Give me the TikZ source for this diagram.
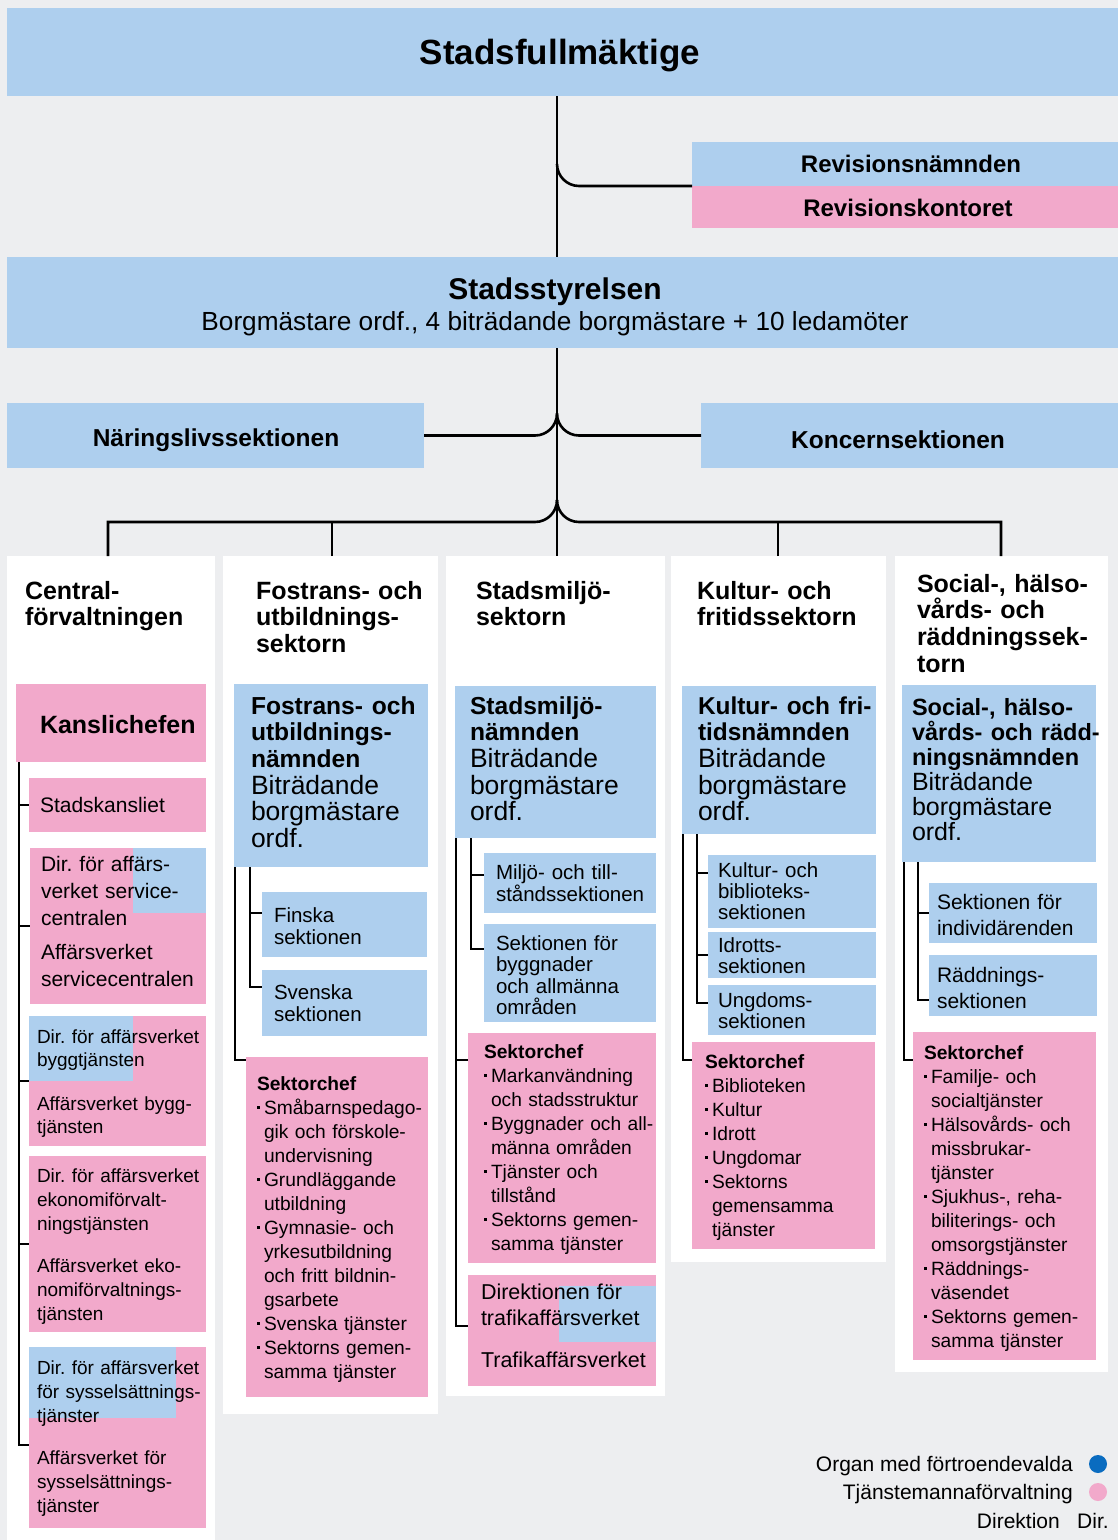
\documentclass[tikz,border=0pt]{standalone}
\usepackage{fontspec}
\setmainfont{Liberation Sans}
\definecolor{bgc}{HTML}{EDEEF0}
\definecolor{blu}{HTML}{AECFEE}
\definecolor{pnk}{HTML}{F2A9CB}
\definecolor{dotblue}{HTML}{0A6CC0}
\newcommand\myfs[2]{\fontsize{#1}{#2}\selectfont}
\newcommand\mybox[6]{\node[boxnode, fill=#6, minimum width={#4-#2}, minimum height={#5-#3}] (#1) at (#2,#3) {};}
\newcommand\mybul{\makebox[7pt][l]{\hspace{0.3pt}\raisebox{5.2pt}{\rule{2.7pt}{2.7pt}}}}
\newcommand\myind{\hspace*{7pt}}
\newcommand\mynb[2]{{\myfs{#1}{26}\bfseries #2}}
\begin{document}
\frenchspacing
\begin{tikzpicture}[x=1pt,y=-1pt]
\tikzset{
  boxnode/.style={anchor=north west,inner sep=0pt,outer sep=0pt,draw=none},
  txt/.style={anchor=base west,inner sep=0pt,outer sep=0pt,text width=260pt,align=left,execute at begin node=\frenchspacing},
  ctr/.style={anchor=base,inner sep=0pt,outer sep=0pt},
  conn/.style={draw=black,line width=2.6pt},
  lst/.style={txt,font=\myfs{19.2}{24}},
  sec/.style={txt,font=\myfs{20.5}{21.5}},
  nmd/.style={txt,font=\myfs{26.5}{26.7}},
  dot/.style={circle,inner sep=0pt,minimum size=18pt,draw=none}
}
\useasboundingbox (0,0) rectangle (1118,1540);
\fill[bgc] (0,0) rectangle (1118,1540);

% ---- top ----
\mybox{sf}{7}{8}{1118}{96}{blu}
\node[ctr,font=\myfs{35}{40}\bfseries] (sft) at (560,64) {Stadsfullmäktige};
\mybox{rn}{692}{142}{1118}{186}{blu}
\mybox{rk}{692}{186}{1118}{228}{pnk}
\node[ctr,font=\myfs{24}{28}\bfseries] (rnt) at (911,172) {Revisionsnämnden};
\node[ctr,font=\myfs{24}{28}\bfseries] (rkt) at (908,216) {Revisionskontoret};
\mybox{ss}{7}{257}{1118}{348}{blu}
\node[ctr,font=\myfs{30}{34}\bfseries] (sst) at (555,299) {Stadsstyrelsen};
\node[ctr,font=\myfs{26.2}{30}] (ssu) at (555,330) {Borgmästare ordf., 4 biträdande borgmästare + 10 ledamöter};
\mybox{nl}{7}{403}{424}{468}{blu}
\node[ctr,font=\myfs{24.5}{28}\bfseries] (nlt) at (216,446) {Näringslivssektionen};
\mybox{kc}{701}{403}{1118}{468}{blu}
\node[ctr,font=\myfs{24.5}{28}\bfseries] (kct) at (898,448) {Koncernsektionen};

% ---- column panels ----
\mybox{c1}{7}{556}{215}{1540}{white}
\mybox{c2}{223}{556}{438}{1414}{white}
\mybox{c3}{446}{556}{665}{1396}{white}
\mybox{c4}{671}{556}{886}{1262}{white}
\mybox{c5}{895}{556}{1108}{1372}{white}

\node[txt,font=\myfs{25}{26.7}\bfseries] (h1) at (25,599) {Central-\\förvaltningen};
\node[txt,font=\myfs{25}{26.7}\bfseries] (h2) at (256,599) {Fostrans- och\\utbildnings-\\sektorn};
\node[txt,font=\myfs{25}{26.7}\bfseries] (h3) at (476,599) {Stadsmiljö-\\sektorn};
\node[txt,font=\myfs{25}{26.7}\bfseries] (h4) at (697,599) {Kultur- och\\fritidssektorn};
\node[txt,font=\myfs{25}{26.7}\bfseries] (h5) at (917,592) {Social-, hälso-\\vårds- och\\räddningssek-\\torn};

% ---- column 1 ----
\mybox{kan1}{16}{684}{206}{762}{pnk}
\node[txt,font=\myfs{25}{28}\bfseries] (kan1t) at (40,733) {Kanslichefen};
\mybox{sk1}{29}{778}{206}{832}{pnk}
\node[txt,font=\myfs{21}{26}] (sk1t) at (40,812) {Stadskansliet};
\mybox{sv1}{30}{848}{206}{1004}{pnk}
\mybox{sv1d}{133}{848}{206}{913}{blu}
\node[txt,font=\myfs{21}{27}] (sv1a) at (41,871) {Dir. för affärs-\\verket service-\\centralen};
\node[txt,font=\myfs{21}{27}] (sv1b) at (41,959) {Affärsverket\\servicecentralen};
\mybox{by1}{29}{1016}{206}{1146}{pnk}
\mybox{by1d}{29}{1016}{133}{1081}{blu}
\node[txt,font=\myfs{19}{23.5}] (by1a) at (37,1043) {Dir. för affärsverket\\byggtjänsten};
\node[txt,font=\myfs{19}{23.5}] (by1b) at (37,1110) {Affärsverket bygg-\\tjänsten};
\mybox{ek1}{29}{1156}{206}{1332}{pnk}
\node[txt,font=\myfs{19}{24}] (ek1a) at (37,1182) {Dir. för affärsverket\\ekonomiförvalt-\\ningstjänsten};
\node[txt,font=\myfs{19}{24}] (ek1b) at (37,1272) {Affärsverket eko-\\nomiförvaltnings-\\tjänsten};
\mybox{sy1}{29}{1347}{206}{1528}{pnk}
\mybox{sy1d}{29}{1347}{176}{1418}{blu}
\node[txt,font=\myfs{19}{24}] (sy1a) at (37,1374) {Dir. för affärsverket\\för sysselsättnings-\\tjänster};
\node[txt,font=\myfs{19}{24}] (sy1b) at (37,1464) {Affärsverket för\\sysselsättnings-\\tjänster};

% ---- column 2 ----
\mybox{nm2}{234}{684}{428}{867}{blu}
\node[nmd] (nm2t) at (251,714) {\mynb{24.6}{Fostrans- och}\\\mynb{24.6}{utbildnings-}\\\mynb{24.6}{nämnden}\\Biträdande\\borgmästare\\ordf.};
\mybox{fi2}{262}{892}{427}{957}{blu}
\node[sec,font=\myfs{20.5}{22}] (fi2t) at (274,922) {Finska\\sektionen};
\mybox{sv2}{262}{970}{427}{1036}{blu}
\node[sec,font=\myfs{20.5}{22}] (sv2t) at (274,999) {Svenska\\sektionen};
\mybox{sc2}{246}{1057}{428}{1397}{pnk}
\node[lst] (sc2t) at (257,1090) {{\bfseries Sektorchef}\\
\mybul Småbarnspedago-\\
\myind gik och förskole-\\
\myind undervisning\\
\mybul Grundläggande\\
\myind utbildning\\
\mybul Gymnasie- och\\
\myind yrkesutbildning\\
\myind och fritt bildnin-\\
\myind gsarbete\\
\mybul Svenska tjänster\\
\mybul Sektorns gemen-\\
\myind samma tjänster};

% ---- column 3 ----
\mybox{nm3}{455}{686}{656}{838}{blu}
\node[nmd] (nm3t) at (470,714) {\mynb{24.6}{Stadsmiljö-}\\\mynb{24.6}{nämnden}\\Biträdande\\borgmästare\\ordf.};
\mybox{mi3}{484}{853}{656}{913}{blu}
\node[sec,font=\myfs{20.5}{22}] (mi3t) at (496,879) {Miljö- och till-\\ståndssektionen};
\mybox{se3}{484}{924}{656}{1022}{blu}
\node[sec] (se3t) at (496,950) {Sektionen för\\byggnader\\och allmänna\\områden};
\mybox{sc3}{468}{1033}{656}{1263}{pnk}
\node[lst] (sc3t) at (484,1058) {{\bfseries Sektorchef}\\
\mybul Markanvändning\\
\myind och stadsstruktur\\
\mybul Byggnader och all-\\
\myind männa områden\\
\mybul Tjänster och\\
\myind tillstånd\\
\mybul Sektorns gemen-\\
\myind samma tjänster};
\mybox{tr3}{468}{1275}{656}{1386}{pnk}
\mybox{tr3d}{559}{1286}{656}{1342}{blu}
\node[txt,font=\myfs{21.5}{26}] (tr3a) at (481,1299) {Direktionen för\\trafikaffärsverket};
\node[txt,font=\myfs{21.5}{26}] (tr3b) at (481,1367) {Trafikaffärsverket};

% ---- column 4 ----
\mybox{nm4}{682}{686}{876}{834}{blu}
\node[nmd] (nm4t) at (698,714) {\mynb{24.4}{Kultur- och fri-}\\\mynb{24.4}{tidsnämnden}\\Biträdande\\borgmästare\\ordf.};
\mybox{ku4}{708}{855}{876}{928}{blu}
\node[sec,font=\myfs{20.5}{21}] (ku4t) at (718,877) {Kultur- och\\biblioteks-\\sektionen};
\mybox{id4}{708}{932}{876}{978}{blu}
\node[sec,font=\myfs{20.5}{21}] (id4t) at (718,952) {Idrotts-\\sektionen};
\mybox{un4}{708}{985}{876}{1035}{blu}
\node[sec,font=\myfs{20.5}{21}] (un4t) at (718,1007) {Ungdoms-\\sektionen};
\mybox{sc4}{692}{1042}{875}{1249}{pnk}
\node[lst] (sc4t) at (705,1068) {{\bfseries Sektorchef}\\
\mybul Biblioteken\\
\mybul Kultur\\
\mybul Idrott\\
\mybul Ungdomar\\
\mybul Sektorns\\
\myind gemensamma\\
\myind tjänster};

% ---- column 5 ----
\mybox{nm5}{902}{685}{1096}{862}{blu}
\node[txt,font=\myfs{25}{25}] (nm5t) at (912,715) {\mynb{23.5}{Social-, hälso-}\\\mynb{23.5}{vårds- och rädd-}\\\mynb{23.5}{ningsnämnden}\\Biträdande\\borgmästare\\ordf.};
\mybox{se5}{929}{883}{1097}{943}{blu}
\node[sec,font=\myfs{21}{26}] (se5t) at (937,909) {Sektionen för\\individärenden};
\mybox{ra5}{929}{955}{1097}{1016}{blu}
\node[sec,font=\myfs{21}{26}] (ra5t) at (937,982) {Räddnings-\\sektionen};
\mybox{sc5}{913}{1032}{1096}{1360}{pnk}
\node[lst] (sc5t) at (924,1059) {{\bfseries Sektorchef}\\
\mybul Familje- och\\
\myind socialtjänster\\
\mybul Hälsovårds- och\\
\myind missbrukar-\\
\myind tjänster\\
\mybul Sjukhus-, reha-\\
\myind biliterings- och\\
\myind omsorgstjänster\\
\mybul Räddnings-\\
\myind väsendet\\
\mybul Sektorns gemen-\\
\myind samma tjänster};

% ---- legend ----
\node[anchor=base east,inner sep=0pt,font=\myfs{21}{24}] (lg1) at (1073,1471) {Organ med förtroendevalda};
\node[dot,fill=dotblue] (lg1d) at (1098,1464) {};
\node[anchor=base east,inner sep=0pt,font=\myfs{21}{24}] (lg2) at (1073,1499) {Tjänstemannaförvaltning};
\node[dot,fill=pnk] (lg2d) at (1098,1492) {};
\node[anchor=base east,inner sep=0pt,font=\myfs{21}{24}] (lg3) at (1060,1528) {Direktion};
\node[anchor=base west,inner sep=0pt,font=\myfs{21}{24}] (lg4) at (1077,1528) {Dir.};

% ---- connectors: top ----
\coordinate (sp) at (557,0);
\draw[conn] (sf.south -| sp) -- (ss.north -| sp);
\draw[conn] (rn.south west) -- (579,186) .. controls (566.9,186) and (557,176.1) .. (557,164);
\draw[conn] (ss.south -| sp) -- (c3.north -| sp);
\draw[conn] (nl.east) -- (535,435.5) .. controls (547.1,435.5) and (557,425.6) .. (557,413.5);
\draw[conn] (kc.west) -- (579,435.5) .. controls (566.9,435.5) and (557,425.6) .. (557,413.5);
\coordinate (d1) at (108,522);
\coordinate (d2) at (332,522);
\coordinate (d4) at (778,522);
\coordinate (d5) at (1001,522);
\draw[conn] (c1.north -| d1) -- (d1) -- (535,522) .. controls (547.1,522) and (557,512.1) .. (557,500);
\draw[conn] (c5.north -| d5) -- (d5) -- (579,522) .. controls (566.9,522) and (557,512.1) .. (557,500);
\draw[conn] (c2.north -| d2) -- (d2);
\draw[conn] (c4.north -| d4) -- (d4);

% ---- connectors: column 1 ----
\coordinate (v1) at (19,0);
\coordinate (sy1k) at ([yshift=-98pt]sy1.north west);
\draw[conn] (kan1.south -| v1) |- (sy1k);
\foreach \b in {sk1,sv1,by1,ek1} {\draw[conn] (\b.west -| v1) -- (\b.west);}

% ---- connectors: column 2 ----
\coordinate (v2) at (235,0);
\coordinate (w2) at (250,0);
\coordinate (sc2k) at ([yshift=-3pt]sc2.north west);
\coordinate (sv2k) at ([yshift=-17pt]sv2.north west);
\coordinate (fi2k) at ([yshift=-21pt]fi2.north west);
\draw[conn] (nm2.south -| v2) |- (sc2k);
\draw[conn] (nm2.south -| w2) |- (sv2k);
\draw[conn] (fi2k -| w2) -- (fi2k);

% ---- connectors: column 3 ----
\coordinate (v3) at (456,0);
\coordinate (w3) at (471,0);
\coordinate (tr3k) at ([yshift=-51pt]tr3.north west);
\coordinate (sc3k) at ([yshift=-27pt]sc3.north west);
\coordinate (se3k) at ([yshift=-25pt]se3.north west);
\coordinate (mi3k) at ([yshift=-22pt]mi3.north west);
\draw[conn] (nm3.south -| v3) |- (tr3k);
\draw[conn] (sc3k -| v3) -- (sc3k);
\draw[conn] (nm3.south -| w3) |- (se3k);
\draw[conn] (mi3k -| w3) -- (mi3k);

% ---- connectors: column 4 ----
\coordinate (v4) at (683,0);
\coordinate (w4) at (697,0);
\coordinate (sc4k) at ([yshift=-18pt]sc4.north west);
\coordinate (un4k) at ([yshift=-18pt]un4.north west);
\coordinate (ku4k) at ([yshift=-18pt]ku4.north west);
\draw[conn] (nm4.south -| v4) |- (sc4k);
\draw[conn] (nm4.south -| w4) |- (un4k);
\draw[conn] (ku4k -| w4) -- (ku4k);
\draw[conn] (id4.west -| w4) -- (id4.west);

% ---- connectors: column 5 ----
\coordinate (v5) at (904,0);
\coordinate (w5) at (918,0);
\coordinate (sc5k) at ([yshift=-28pt]sc5.north west);
\coordinate (ra5k) at ([yshift=-45pt]ra5.north west);
\draw[conn] (nm5.south -| v5) |- (sc5k);
\draw[conn] (nm5.south -| w5) |- (ra5k);
\draw[conn] (se5.west -| w5) -- (se5.west);
\end{tikzpicture}
\end{document}
